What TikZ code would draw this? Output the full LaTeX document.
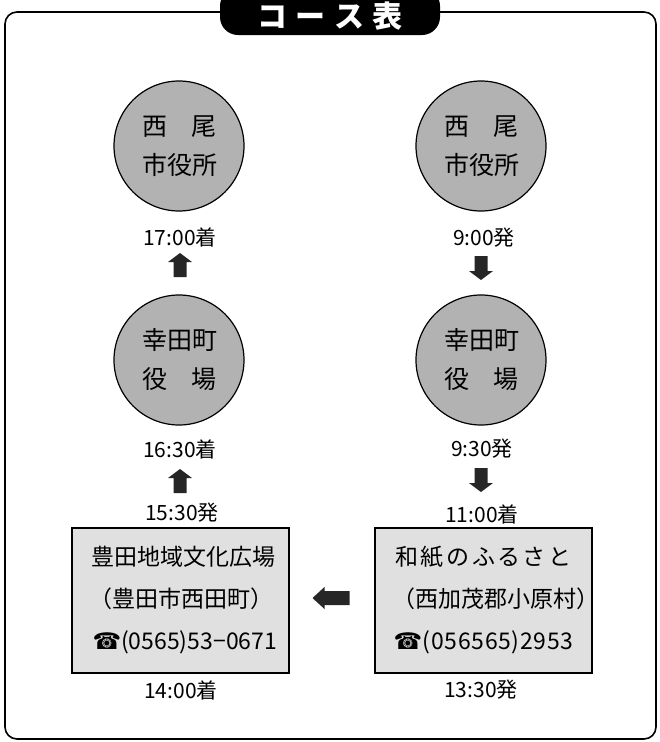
\documentclass[tikz,border=0pt]{standalone}
\usepackage{fontspec}
\setmainfont{Noto Sans CJK JP}
\newfontfamily\symfont{DejaVu Sans}
\makeatletter
\newcommand\spreadchars[2]{\makebox[#1][s]{\@tfor\@ch:=#2\do{\@ch\hfil}\unskip}}
\makeatother
\newcommand\phone{{\symfont\fontsize{23}{23}\selectfont ☎}}
\tikzset{
  frame/.style={line width=1.6pt, rounded corners=12pt},
  badge/.style={fill=black, rounded corners=18pt},
  badgetext/.style={text=white, font=\fontsize{30}{30}\selectfont\bfseries, inner sep=0pt},
  stop/.style={circle, draw=black, line width=1.2pt, fill=black!30, minimum size=130pt,
    inner sep=0pt, align=center, font=\fontsize{25}{39}\selectfont},
  place/.style={rectangle, draw=black, line width=1.2pt, fill=black!12, minimum width=217pt,
    minimum height=145pt, inner sep=0pt, align=center, font=\fontsize{23}{42}\selectfont},
  time/.style={inner sep=0pt, font=\fontsize{21}{21}\selectfont},
  arrowfill/.style={fill=black!85},
  uparr/.pic={\fill[arrowfill] (0,-12) -- (12,-3) -- (6.5,-3) -- (6.5,12) -- (-6.5,12) -- (-6.5,-3) -- (-12,-3) -- cycle;},
  downarr/.pic={\fill[arrowfill] (0,12) -- (12,3) -- (6.5,3) -- (6.5,-12) -- (-6.5,-12) -- (-6.5,3) -- (-12,3) -- cycle;},
  leftarr/.pic={\fill[arrowfill] (-18.5,0) -- (-6.5,-11) -- (-6.5,-7) -- (18.5,-7) -- (18.5,7) -- (-6.5,7) -- (-6.5,11) -- cycle;}
}
\begin{document}
\begin{tikzpicture}[x=1pt,y=-1pt]
\useasboundingbox (0,0) rectangle (659,742);
\draw[frame] (5,12) rectangle (656,739);
\fill[badge] (220,-12) rectangle (440,35);
\node[badgetext] (title) at (330,16) {\spreadchars{145pt}{コース表}};

% circles
\node[stop] (nishioL) at (179,146) {\spreadchars{74pt}{西尾}\\\spreadchars{74pt}{市役所}};
\node[stop] (nishioR) at (481,146) {\spreadchars{74pt}{西尾}\\\spreadchars{74pt}{市役所}};
\node[stop] (kotaL) at (179,360) {\spreadchars{74pt}{幸田町}\\\spreadchars{74pt}{役場}};
\node[stop] (kotaR) at (481,360) {\spreadchars{74pt}{幸田町}\\\spreadchars{74pt}{役場}};

% boxes
\node[place] (toyota) at (180.5,600.5) {\spreadchars{178pt}{豊田地域文化広場}\\\spreadchars{182pt}{（豊田市西田町）}\\\spreadchars{176pt}{\phone(0565)53−0671}};
\node[place] (washi) at (483.5,600.5) {\spreadchars{176pt}{和紙のふるさと}\\\spreadchars{182pt}{（西加茂郡小原村）}\\\spreadchars{180pt}{\phone(056565)2953}};

% times
\node[time] (t1700) at (180,237) {17:00着};
\node[time] (t0900) at (484,238) {9:00発};
\node[time] (t1630) at (180,449) {16:30着};
\node[time] (t0930) at (482,449) {9:30発};
\node[time] (t1530) at (182,513) {15:30発};
\node[time] (t1100) at (482,514) {11:00着};
\node[time] (t1400) at (181,690) {14:00着};
\node[time] (t1330) at (481,690) {13:30発};

% arrows
\pic at (180,265) {uparr};
\pic at (180,481) {uparr};
\pic at (481,268) {downarr};
\pic at (481,480) {downarr};
\pic at (331,598) {leftarr};
\end{tikzpicture}
\end{document}
